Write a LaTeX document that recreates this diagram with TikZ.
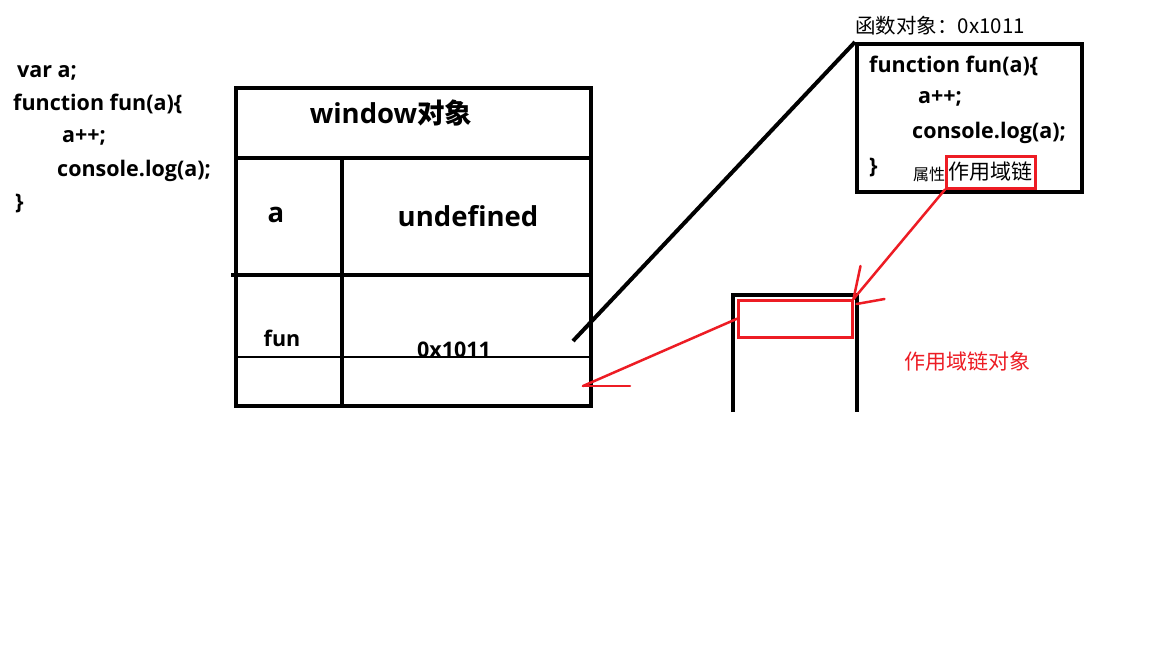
\documentclass[tikz,border=0pt]{standalone}
\usepackage{fontspec}
\setmainfont{Open Sans}
\newfontfamily\cjk{Noto Sans CJK SC}
\usetikzlibrary{positioning,calc}
\definecolor{inkred}{RGB}{237,28,36}
\tikzset{
  code/.style={anchor=base west, inner sep=0pt, font=\fontsize{21.5}{21.5}\selectfont\bfseries},
  big/.style={anchor=base, inner sep=0pt, font=\fontsize{27.5}{27.5}\selectfont\bfseries},
  blk/.style={draw=black, line width=4pt},
  thin/.style={draw=black, line width=2pt},
  redln/.style={draw=inkred, line width=2.5pt, line cap=round},
  redlbl/.style={anchor=base, inner sep=0pt, text=inkred, font=\fontsize{21}{21}\selectfont\cjk}
}
\begin{document}
\begin{tikzpicture}[x=1pt, y=-1pt]
\useasboundingbox[fill=white] (0,0) rectangle (1152,648);

%% ── left: source code ─────────────────────────────
\node[code] (c1) at (17,77)  {var a;};
\node[code] (c2) at (13,110) {function fun(a)\{};
\node[code] (c3) at (62,142) {a++;};
\node[code] (c4) at (57,176) {console.log(a);};
\node[code] (c5) at (15,209) {\}};

%% ── window object table ───────────────────────────
\node[blk, rectangle, inner sep=0pt, minimum width=355pt, minimum height=318pt,
      anchor=north west] (win) at (234,86) {};
\draw[blk] (234,158) -- (589,158);
\draw[blk] (231,275) -- (589,275);
\draw[thin] (234,357) -- (589,357);
\draw[blk] (342,158) -- (342,404);
\node[big] (wtitle) at (391,123) {window{\cjk 对象}};
\node[big] (wa)     at (276,222) {a};
\node[big] (wundef) at (468,226) {undefined};
\node[code, anchor=base] (wfun) at (282,346) {fun};
\node[code, anchor=base] (wval) at (454,357) {0x1011};
\coordinate (funptr)  at (573,341);
\coordinate (winslot) at (583,386);

%% ── function object ───────────────────────────────
\node[blk, rectangle, inner sep=0pt, minimum width=225pt, minimum height=148pt,
      anchor=north west] (fnbox) at (855,42) {};
\node[anchor=base west, inner sep=0pt, font=\fontsize{20.5}{20.5}\selectfont\cjk]
     (fnhead) at (855,33) {函数对象：0x1011};
\node[code] (f1) at (869,72)  {function fun(a)\{};
\node[code] (f2) at (918,103) {a++;};
\node[code] (f3) at (912,138) {console.log(a);};
\node[code] (f4) at (869,173) {\}};
\node[anchor=base west, inner sep=0pt, font=\fontsize{16}{16}\selectfont\cjk]
     (fattr) at (913,180) {属性};
\node[draw=inkred, line width=2.5pt, inner sep=0pt, minimum width=89pt,
      minimum height=32pt, anchor=north west] (scopeprop) at (945,155) {};
\node[anchor=base, inner sep=0pt, font=\fontsize{21}{21}\selectfont\cjk]
     (fscope) at (990,179) {作用域链};

\draw[blk] (funptr) -- (fnbox.north west);

%% ── scope chain object ────────────────────────────
\draw[blk] (733,412) -- (733,295) -- (857,295) -- (857,412);
\node[draw=inkred, line width=2.5pt, inner sep=0pt, minimum width=114pt,
      minimum height=37pt, anchor=north west] (slot) at (737,299) {};
\node[redlbl] (scopelbl) at (967,369) {作用域链对象};

%% red arrows, hand drawn
\draw[redln] (scopeprop.south west) -- (slot.north east);
\draw[redln] (slot.north east) -- ++(7,-33);
\draw[redln] ($(slot.north east)+(3,5)$) -- ++(28,-5);
\draw[redln] (slot.west) -- (winslot);
\draw[redln] (winslot) -- ++(47,0);

\end{tikzpicture}
\end{document}
